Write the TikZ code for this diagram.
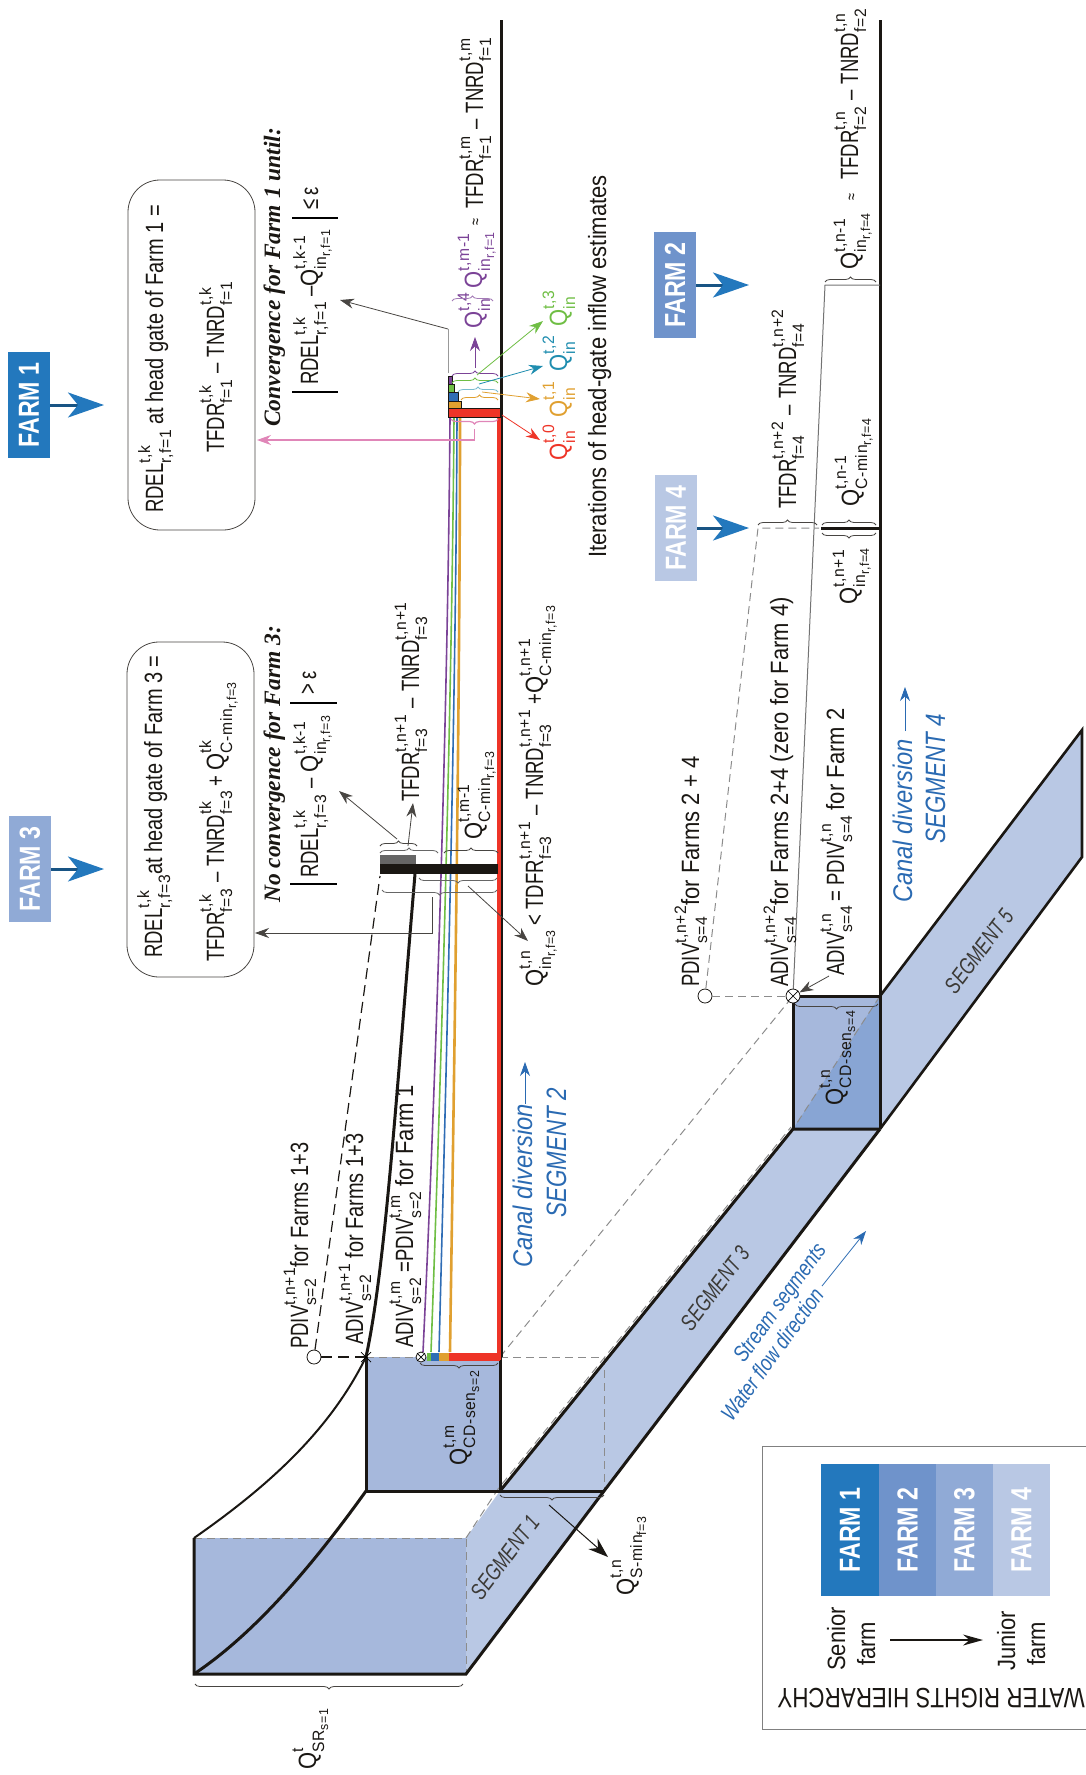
\documentclass[tikz,border=0pt]{standalone}
\usepackage{fontspec}
\setmainfont[FakeStretch=0.74]{Liberation Sans}
\newfontfamily\midfont[FakeStretch=0.8]{Liberation Sans}
\newfontfamily\widefont[FakeStretch=0.88]{Liberation Sans}
\newfontfamily\subfont[FakeStretch=0.95,LetterSpace=4]{Liberation Sans}
\newfontfamily\serifhead{Liberation Serif}
\usetikzlibrary{arrows.meta,decorations.pathreplacing}
\definecolor{farmone}{HTML}{2378BD}
\definecolor{farmtwo}{HTML}{6F93CB}
\definecolor{farmthree}{HTML}{90AAD6}
\definecolor{farmfour}{HTML}{B9C8E4}
\definecolor{pool}{HTML}{A6B8DC}
\definecolor{pooldark}{HTML}{88A5D4}
\definecolor{strip}{HTML}{B9C8E4}
\definecolor{inkblue}{HTML}{2A6AB2}
\definecolor{iterred}{HTML}{EE3427}
\definecolor{iterorange}{HTML}{E0A030}
\definecolor{iterteal}{HTML}{1F8DAF}
\definecolor{itergreen}{HTML}{6FBE44}
\definecolor{iterpurple}{HTML}{7B4397}
\definecolor{iterblue}{HTML}{2F6DB5}
\definecolor{iterpink}{HTML}{E086B8}
\definecolor{ink}{HTML}{1A1713}
\newcommand{\updn}[2]{{\ooalign{\raisebox{.52em}{\fontsize{16.5}{17}\subfont #1}\hfil\cr\raisebox{-.32em}{\fontsize{16.5}{17}\subfont #2}\hfil\cr}}}
\newcommand{\nest}[2]{#1\raisebox{-.25em}{\fontsize{13}{13}\subfont #2}}
\newcommand{\Qsym}{{\widefont Q}}
\newcommand{\wtxt}[1]{{\widefont #1}}
\newcommand{\mtxt}[1]{{\midfont #1}}
\newcommand{\mns}{\hspace{.25em}--\hspace{.25em}}
\tikzset{
	vlabel/.style={rotate=90,anchor=base west,inner sep=0pt,font=\fontsize{25}{28}\selectfont,text=ink},
	vhead/.style={vlabel,font=\fontsize{23.5}{26}\serifhead\bfseries\itshape\selectfont},
	vblue/.style={vlabel,font=\fontsize{28}{30}\midfont\itshape\selectfont,text=inkblue},
	vcanal/.style={vlabel,font=\fontsize{27}{30}\widefont\itshape\selectfont,text=inkblue},
	smallsign/.style={rotate=90,anchor=center,inner sep=0pt,font=\fontsize{17}{18}\selectfont,text=ink},
	seglabel/.style={rotate=53,anchor=center,inner sep=0pt,font=\fontsize{23}{26}\itshape\selectfont,text=ink!85},
	flowlabel/.style={rotate=54,anchor=base west,inner sep=0pt,font=\fontsize{22.5}{24}\midfont\itshape\selectfont,text=inkblue},
	farmbox/.style={rotate=90,minimum width=106pt,minimum height=42pt,inner sep=0pt,text=white,font=\fontsize{29}{30}\midfont\bfseries\selectfont},
	roundbox/.style={draw=ink!80,line width=.8pt,rounded corners=32pt},
	bank/.style={draw=ink,line width=3pt},
	greydash/.style={draw=black!45,line width=1pt,dash pattern=on 8pt off 5pt},
	blackdash/.style={draw=ink,line width=1.2pt,dash pattern=on 11pt off 6pt},
	upbrace/.style={decorate,decoration={brace,amplitude=5pt},line width=.8pt},
	downbrace/.style={decorate,decoration={brace,amplitude=5pt,mirror},line width=.8pt},
	thinarrow/.style={line width=.8pt,-{Stealth[length=14pt,width=10pt]}},
	farmarrow/.style={draw=farmone!70!black,line width=3pt,-{Stealth[length=36pt,width=25pt,inset=10pt,color=farmone]}},
	gate/.style={circle,draw=ink,fill=white,line width=.8pt,inner sep=0pt,minimum size=14pt},
	smallgate/.style={gate,minimum size=10pt}
}
\begin{document}
\begin{tikzpicture}[x=1pt,y=-1pt]
	\useasboundingbox (0,0) rectangle (1086,1775);
	% water bodies
	\fill [strip] (466,1538) -- (500,1491) -- (793,1129) -- (880,1129) -- (604,1491) -- (466,1674) -- cycle;
	\fill [strip] (880,996) -- (1082,730) -- (1082,857) -- (880,1129) -- cycle;
	\fill [pool] (194,1538) rectangle (466,1674);
	\fill [pool] (366,1357) rectangle (500,1491);
	\fill [pool] (793,996) rectangle (880,1129);
	\fill [pooldark] (880,996) -- (880,1129) -- (793,1129) -- cycle;
	% dashed outlines
	\draw [greydash] (194,1538) -- (466,1538) -- (466,1674);
	\draw [greydash] (466,1538) -- (498,1489) -- (791,1127);
	\draw [greydash] (500,1357) -- (604,1357) -- (604,1491);
	\draw [greydash] (366,1357) -- (421,1357);
	\draw [greydash] (500,1357) -- (793,996);
	\draw [greydash] (880,996) -- (793,1129);
	% banks
	\draw [bank] (194,1538) -- (194,1674) -- (466,1674) -- (604,1491) -- (880,1129);
	\draw [bank] (500,1491) -- (793,1129) -- (880,1129);
	\draw [bank] (366,1357) -- (366,1491) -- (604,1491);
	\draw [bank] (500,1357) -- (500,1491);
	\draw [bank] (501,20) -- (501,1357);
	\draw [bank] (880,20) -- (880,1129);
	\draw [bank] (793,996) -- (793,1129);
	\draw [bank] (793,996) -- (880,996);
	\draw [draw=ink,line width=2.6pt] (880,996) -- (1082,730) -- (1082,857) -- (880,1129);
	\draw [draw=ink,line width=2pt] (194,1538) .. controls (270,1485) and (330,1430) .. (366,1357);
	\draw [draw=ink,line width=3pt] (194,1674) .. controls (260,1630) and (320,1555) .. (366,1491);
	\draw [draw=ink,line width=3pt] (366,1357) .. controls (385,1270) and (396,1100) .. (415,874);
	% head-gate iterations of segment 2
	\draw [iterpurple,line width=1.6pt] (423,1352) .. controls (436,1080) and (448,700) .. (450,417);
	\draw [itergreen,line width=1.6pt] (431,1352) .. controls (441,1080) and (452,700) .. (454,417);
	\draw [iterblue,line width=1.6pt] (439,1352) .. controls (446,1080) and (456,700) .. (457,417);
	\draw [iterorange,line width=2.6pt] (450,1352) .. controls (454,1080) and (460,700) .. (460,417);
	\draw [iterred,line width=4pt] (498.5,408) -- (498.5,1360);
	\fill [itergreen] (427,1353) rectangle (431,1361);
	\fill [iterblue] (431,1353) rectangle (439,1361);
	\fill [iterorange] (439,1353) rectangle (449,1361);
	\fill [iterred] (449,1353) rectangle (500,1361);
	\filldraw [fill=iterpurple,draw=ink,line width=.5pt] (448,376) rectangle (452,384);
	\filldraw [fill=itergreen,draw=ink,line width=.5pt] (448,384) rectangle (454,392);
	\filldraw [fill=iterblue,draw=ink,line width=.5pt] (448,392) rectangle (458,401);
	\filldraw [fill=iterorange,draw=ink,line width=.5pt] (448,401) rectangle (461,408);
	\filldraw [fill=iterred,draw=ink,line width=.5pt] (448,408) rectangle (500,417);
	% farm 3 and farm 4 head gates
	\fill [black!60] (380,855) rectangle (416,864);
	\fill [ink] (380,864) rectangle (498,874);
	\draw [draw=ink,line width=3pt] (821,528) -- (880,528);
	\draw [draw=black!55,line width=1pt] (793,996) -- (825,285) -- (880,285);
	% diversion gates
	\node (gateA) [smallgate] at (421,1357) {};
	\draw [line width=.7pt] (gateA.north east) -- (gateA.south west) (gateA.north west) -- (gateA.south east);
	\node (gateB) [gate] at (793,996) {};
	\draw [line width=.7pt] (gateB.north east) -- (gateB.south west) (gateB.north west) -- (gateB.south east);
	\node (potA) [gate] at (314,1357) {};
	\node (potB) [gate] at (705,996) {};
	\coordinate (crossA) at (366,1357);
	\coordinate (topA) at (380,876);
	\coordinate (topB) at (758,528);
	\coordinate (endB) at (819,528);
	\draw [blackdash] (potA) -- (crossA);
	\draw [blackdash] (potA) -- (topA);
	\draw [line width=.7pt] (361,1352) -- (371,1362) (361,1362) -- (371,1352);
	\draw [greydash] (potB) -- (gateB);
	\draw [greydash] (potB) -- (topB) -- (endB);
	% explanation boxes
	\node (boxone) [roundbox,minimum width=127pt,minimum height=350pt] at (191.5,355) {};
	\node (boxthree) [roundbox,minimum width=127pt,minimum height=335pt] at (190.5,809.5) {};
	\node (rdelone) [vlabel] at (163,513) {RDEL\updn{t,k}{r,f=1}\ \mtxt{at head gate of Farm 1 =}};
	\node (tfdrone) [vlabel] at (224,453) {TFDR\updn{t,k}{f=1}\mns TNRD\updn{t,k}{f=1}};
	\node (rdelthree) [vlabel] at (162,958) {RDEL\updn{t,k}{r,f=3}\mtxt{at head gate of Farm 3 =}};
	\node (tfdrthree) [vlabel] at (224,962) {TFDR\updn{t,k}{f=3}\mns TNRD\updn{tk}{f=3} + \Qsym\updn{tk}{\nest{C-min}{r,f=3}}};
	\node (convone) [vhead] at (280,427) {Convergence for Farm 1 until:};
	\node (convthree) [vhead] at (280,903) {No convergence for Farm 3:};
	\node (testone) [vlabel] at (318,385) {RDEL\updn{t,k}{r,f=1} --\Qsym\updn{t,k-1}{\nest{in}{r,f=1}}};
	\node (leone) [vlabel] at (318,210) {≤\,ε};
	\draw [line width=1.3pt] (292,392) -- (338,392) (292,218) -- (338,218);
	\node (testthree) [vlabel] at (318,878) {RDEL\updn{t,k}{r,f=3}\mns\Qsym\updn{t,k-1}{\nest{in}{r,f=3}}};
	\node (gtthree) [vlabel] at (316,695) {>\,ε};
	\draw [line width=1.3pt] (290,884) -- (337,884) (290,703) -- (337,703);
	% farm tags
	\node (tagone) [farmbox,fill=farmone] at (29,405) {FARM 1};
	\node (tagthree) [farmbox,fill=farmthree] at (30,869) {FARM 3};
	\node (tagtwo) [farmbox,fill=farmtwo] at (675,285) {FARM 2};
	\node (tagfour) [farmbox,fill=farmfour] at (676,528) {FARM 4};
	\coordinate (aimtagone) at (104,405);
	\coordinate (aimthree) at (104,869);
	\coordinate (aimtwo) at (749,285);
	\coordinate (aimfour) at (749,528);
	\draw [farmarrow] (tagone) -- (aimtagone);
	\draw [farmarrow] (tagthree) -- (aimthree);
	\draw [farmarrow] (tagtwo) -- (aimtwo);
	\draw [farmarrow] (tagfour) -- (aimfour);
	% labels at the farm 1 gate
	\node (qfour) [vlabel,text=iterpurple] at (482,329) {\Qsym\updn{t,4}{in}};
	\node (qlast) [vlabel,text=iterpurple] at (482,289) {\Qsym\updn{t,m-1}{\nest{in}{r,f=1}}};
	\node (approxone) [smallsign] at (477,222) {≈};
	\node (demandone) [vlabel] at (483,209) {TFDR\updn{t,m}{f=1}\mns TNRD\updn{t,m}{f=1}};
	\node (qzero) [vlabel,text=iterred] at (567,461) {\Qsym\updn{t,0}{in}};
	\node (qone) [vlabel,text=iterorange] at (567,418) {\Qsym\updn{t,1}{in}};
	\node (qtwo) [vlabel,text=iterteal] at (567,372) {\Qsym\updn{t,2}{in}};
	\node (qthree) [vlabel,text=itergreen] at (567,327) {\Qsym\updn{t,3}{in}};
	\node (iterlabel) [vlabel] at (606,558) {\wtxt{Iterations of head-gate inflow estimates}};
	\draw [iterpurple,upbrace] (452,376) -- (498,376);
	\draw [itergreen,upbrace] (452,383) -- (498,383);
	\draw [iterteal!60,upbrace] (458,392) -- (498,392);
	\draw [iterorange,upbrace] (461,400) -- (498,400);
	\draw [iterpink,downbrace,line width=1.2pt] (451,419) -- (498,419);
	\draw [iterpurple!70,upbrace] (452,301) -- (493,301);
	\coordinate (tipfour) at (475,368);
	\coordinate (aimfourth) at (475,337);
	\coordinate (tipthree) at (477,375);
	\coordinate (aimthird) at (543,321);
	\coordinate (tiptwo) at (479,384);
	\coordinate (aimsecond) at (543,366);
	\coordinate (tipone) at (482,392);
	\coordinate (aimfirst) at (540,399);
	\coordinate (tipzero) at (502,415);
	\coordinate (aimzero) at (540,440);
	\coordinate (tippink) at (474.5,429);
	\coordinate (bendpink) at (474.5,440);
	\coordinate (aimpink) at (257,440);
	\draw [iterpurple,thinarrow] (tipfour) -- (aimfourth);
	\draw [itergreen,thinarrow] (tipthree) -- (aimthird);
	\draw [iterteal,thinarrow] (tiptwo) -- (aimsecond);
	\draw [iterorange,thinarrow] (tipone) -- (aimfirst);
	\draw [iterred,thinarrow] (tipzero) -- (aimzero);
	\draw [iterpink,thinarrow,line width=1.3pt] (tippink) -- (bendpink) -- (aimpink);
	\coordinate (stemone) at (448,373);
	\coordinate (bendone) at (448,329);
	\coordinate (aimone) at (340,300);
	\draw [draw=black!40,line width=.9pt] (stemone) -- (bendone);
	\draw [draw=ink!80,thinarrow] (bendone) -- (aimone);
	% labels at the farm 3 gate
	\node (demandthree) [vlabel] at (419,802) {TFDR\updn{t,n+1}{f=3}\mns TNRD\updn{t,n+1}{f=3}};
	\node (cminthree) [vlabel] at (482,840) {\Qsym\updn{t,m-1}{\nest{C-min}{r,f=3}}};
	\node (ineqthree) [vlabel] at (543,987) {\Qsym\updn{t,n}{\nest{in}{r,f=3}} < TDFR\updn{t,n+1}{f=3}\mns TNRD\updn{t,n+1}{f=3} +\Qsym\updn{t,n+1}{\nest{C-min}{r,f=3}}};
	\draw [draw=ink!80,upbrace] (380,846) -- (417,846);
	\draw [draw=black!60,upbrace] (380,853) -- (438,853);
	\draw [draw=ink!80,upbrace] (444,853) -- (498,853);
	\draw [draw=black!60,downbrace] (419,878) -- (497,878);
	\draw [draw=black!60,downbrace] (382,890) -- (497,890);
	\coordinate (tipdelta) at (397,839);
	\coordinate (aimdelta) at (339,791);
	\coordinate (tipdem) at (408,846);
	\coordinate (aimdem) at (413,803);
	\coordinate (tipbig) at (432,897);
	\coordinate (bendbig) at (432,933);
	\coordinate (aimbig) at (255,933);
	\coordinate (tiplow) at (468,886);
	\coordinate (aimlow) at (528,941);
	\draw [draw=ink!80,thinarrow] (tipdelta) -- (aimdelta);
	\draw [draw=ink!80,thinarrow] (tipdem) -- (aimdem);
	\draw [draw=ink!80,thinarrow] (tipbig) -- (bendbig) -- (aimbig);
	\draw [draw=ink!80,thinarrow] (tiplow) -- (aimlow);
	% labels along canal 1
	\node (potAlabel) [vlabel] at (308,1349) {PDIV\updn{t,n+1}{s=2}\mtxt{for Farms 1+3}};
	\node (actAlabel) [vlabel] at (363,1345) {ADIV\updn{t,n+1}{s=2} \mtxt{for Farms 1+3}};
	\node (actBlabel) [vlabel] at (413,1348) {ADIV\updn{t,m}{s=2} =PDIV\updn{t,m}{s=2} \wtxt{for Farm 1}};
	\node (qsen) [vlabel] at (467,1466) {\Qsym\updn{t,m}{\nest{CD-sen}{s=2}}};
	\draw [draw=ink!80,downbrace] (420,1363) -- (498,1363);
	\node (canaltwo) [vcanal] at (532,1268) {Canal diversion};
	\node (segtwo) [vblue] at (566,1218) {SEGMENT 2};
	\coordinate (flowfoot) at (525,1104);
	\coordinate (flowhead) at (525,1062);
	\draw [inkblue,thinarrow] (flowfoot) -- (flowhead);
	% segment 1 labels
	\node (qsr) [vlabel] at (316,1770) {\Qsym\updn{t}{\nest{SR}{s=1}}};
	\draw [draw=ink!80,downbrace] (195,1684) -- (463,1684);
	\draw [draw=ink!80,downbrace] (500,1495) -- (604,1495);
	\coordinate (tipmin) at (549,1505);
	\coordinate (aimmin) at (608,1557);
	\draw [draw=ink,line width=1pt,-{Stealth[length=20pt,width=14pt]}] (tipmin) -- (aimmin);
	\node (qmin) [vlabel] at (634,1596) {\Qsym\updn{t,n}{\nest{S-min}{f=3}}};
	\node (segone) [seglabel] at (505,1557) {SEGMENT 1};
	\node (segthree) [seglabel] at (715,1288) {SEGMENT 3};
	\node (segfive) [seglabel] at (979,951) {SEGMENT 5};
	\node (flowtop) [flowlabel] at (744,1364) {Stream segments};
	\node (flowlow) [flowlabel] at (732,1423) {Water flow direction};
	\coordinate (wflowfoot) at (822,1286);
	\coordinate (wflowhead) at (866,1231);
	\draw [inkblue,thinarrow] (wflowfoot) -- (wflowhead);
	% labels along canal 2
	\node (demandfour) [vlabel] at (796,509) {TFDR\updn{t,n+2}{f=4}\mns TNRD\updn{t,n+2}{f=4}};
	\node (cminfour) [vlabel] at (859,507) {\Qsym\updn{t,n-1}{\nest{C-min}{r,f=4}}};
	\node (qinfour) [vlabel] at (857,605) {\Qsym\updn{t,n+1}{\nest{in}{r,f=4}}};
	\node (qlastfour) [vlabel] at (858,270) {\Qsym\updn{t,n-1}{\nest{in}{r,f=4}}};
	\node (approxtwo) [smallsign] at (853,197) {≈};
	\node (demandtwo) [vlabel] at (858,180) {TFDR\updn{t,n}{f=2}\mns TNRD\updn{t,n}{f=2}};
	\draw [draw=ink!80,upbrace] (758,525) -- (817,525);
	\draw [draw=ink!80,upbrace] (822,525) -- (876,525);
	\draw [draw=ink!80,downbrace] (822,533) -- (876,533);
	\draw [draw=ink!80,upbrace] (825,282) -- (876,282);
	\node (potBlabel) [vlabel] at (699,987) {PDIV\updn{t,n+2}{s=4}\wtxt{for Farms 2 + 4}};
	\node (actClabel) [vlabel] at (788,987) {ADIV\updn{t,n+2}{s=4}\wtxt{for Farms 2+4 (zero for Farm 4)}};
	\node (actDlabel) [vlabel] at (844,976) {ADIV\updn{t,n}{s=4}\,= PDIV\updn{t,n}{s=4} \wtxt{for Farm 2}};
	\coordinate (stemgate) at (829,976);
	\draw [draw=ink!80,thinarrow] (stemgate) -- (gateB);
	\node (qsenfour) [vlabel] at (843,1106) {\Qsym\updn{t,n}{\nest{CD-sen}{s=4}}};
	\draw [draw=ink!80,downbrace] (795,1004) -- (878,1004);
	\node (canalfour) [vcanal] at (912,903) {Canal diversion};
	\node (segfour) [vblue] at (945,844) {SEGMENT 4};
	\coordinate (flowfootB) at (905,731);
	\coordinate (flowheadB) at (905,687);
	\draw [inkblue,thinarrow] (flowfootB) -- (flowheadB);
	% legend
	\draw [draw=black!50,line width=.9pt] (1086,1446) -- (762,1446) -- (762,1729) -- (1086,1729);
	\node (rankone) [farmbox,fill=farmone,minimum width=132pt,minimum height=58pt] at (850,1530) {FARM 1};
	\node (ranktwo) [farmbox,fill=farmtwo,minimum width=132pt,minimum height=57pt] at (907.5,1530) {FARM 2};
	\node (rankthree) [farmbox,fill=farmthree,minimum width=132pt,minimum height=57pt] at (964.5,1530) {FARM 3};
	\node (rankfour) [farmbox,fill=farmfour,minimum width=132pt,minimum height=57pt] at (1021.5,1530) {FARM 4};
	\node (senior) [vlabel] at (845,1671) {\wtxt{Senior}};
	\node (seniorb) [vlabel] at (875,1666) {\wtxt{farm}};
	\node (junior) [vlabel] at (1015,1671) {\wtxt{Junior}};
	\node (juniorb) [vlabel] at (1045,1666) {\wtxt{farm}};
	\coordinate (rankfoot) at (890,1640);
	\coordinate (rankhead) at (983,1640);
	\draw [draw=ink,line width=1.2pt,-{Stealth[length=20pt,width=11pt]}] (rankfoot) -- (rankhead);
	\node (legendtitle) [rotate=180,anchor=base west,inner sep=0pt,font=\fontsize{28}{30}\midfont\selectfont,text=ink] at (1085,1688) {WATER RIGHTS HIERARCHY};
\end{tikzpicture}
\end{document}
